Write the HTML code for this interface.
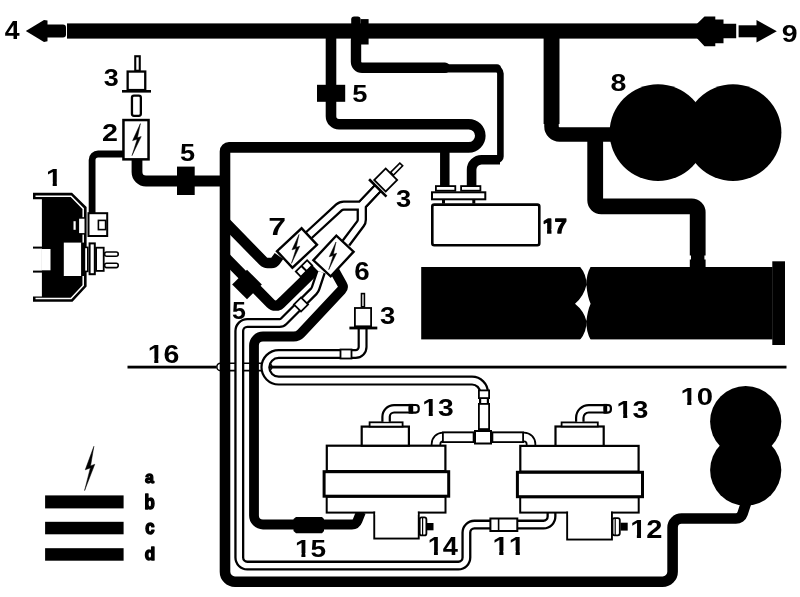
<!DOCTYPE html>
<html><head><meta charset="utf-8"><style>
html,body{margin:0;padding:0;background:#fff;}
svg{display:block;}
</style></head><body>
<svg width="800" height="597" viewBox="0 0 800 597">
<rect width="800" height="597" fill="#fff"/>
<g style="will-change:transform"><text transform="translate(4.75,39.25) scale(0.2670,0.2486)" font-family="Liberation Sans" font-weight="bold" font-size="100" style="font-kerning:none" fill="#000">4</text>

<text transform="translate(781.66,41.81) scale(0.2849,0.2429)" font-family="Liberation Sans" font-weight="bold" font-size="100" style="font-kerning:none" fill="#000">9</text>

<text transform="translate(103.83,86.48) scale(0.2696,0.2382)" font-family="Liberation Sans" font-weight="bold" font-size="100" style="font-kerning:none" fill="#000">3</text>

<text transform="translate(101.96,140.95) scale(0.2866,0.2449)" font-family="Liberation Sans" font-weight="bold" font-size="100" style="font-kerning:none" fill="#000">2</text>

<text transform="translate(45.96,186.35) scale(0.2912,0.2442)" font-family="Liberation Sans" font-weight="bold" font-size="100" style="font-kerning:none" fill="#000">1</text>
<rect x="46.81" y="182.53" width="5.86" height="4.89" fill="#fff"/><rect x="56.84" y="182.53" width="5.62" height="4.89" fill="#fff"/>
<text transform="translate(180.02,161.02) scale(0.2713,0.2379)" font-family="Liberation Sans" font-weight="bold" font-size="100" style="font-kerning:none" fill="#000">5</text>

<text transform="translate(352.31,102.01) scale(0.2733,0.2451)" font-family="Liberation Sans" font-weight="bold" font-size="100" style="font-kerning:none" fill="#000">5</text>

<text transform="translate(610.54,90.72) scale(0.2856,0.2387)" font-family="Liberation Sans" font-weight="bold" font-size="100" style="font-kerning:none" fill="#000">8</text>

<text transform="translate(268.18,234.75) scale(0.3197,0.2456)" font-family="Liberation Sans" font-weight="bold" font-size="100" style="font-kerning:none" fill="#000">7</text>

<text transform="translate(395.92,207.18) scale(0.2736,0.2410)" font-family="Liberation Sans" font-weight="bold" font-size="100" style="font-kerning:none" fill="#000">3</text>

<text transform="translate(542.72,232.82) scale(0.2170,0.2086)" font-family="Liberation Sans" font-weight="bold" font-size="100" style="font-kerning:none" fill="#000" stroke="#000" stroke-width="6" stroke-linejoin="round">17</text>
<rect x="542.70" y="228.94" width="4.37" height="5.43" fill="#fff"/><rect x="551.47" y="228.94" width="4.18" height="5.43" fill="#fff"/>
<text transform="translate(354.13,280.21) scale(0.2772,0.2500)" font-family="Liberation Sans" font-weight="bold" font-size="100" style="font-kerning:none" fill="#000">6</text>

<text transform="translate(231.88,318.72) scale(0.2492,0.2350)" font-family="Liberation Sans" font-weight="bold" font-size="100" style="font-kerning:none" fill="#000">5</text>

<text transform="translate(379.92,323.98) scale(0.2756,0.2438)" font-family="Liberation Sans" font-weight="bold" font-size="100" style="font-kerning:none" fill="#000">3</text>

<text transform="translate(147.70,362.51) scale(0.2848,0.2500)" font-family="Liberation Sans" font-weight="bold" font-size="100" style="font-kerning:none" fill="#000">16</text>
<rect x="148.54" y="358.60" width="5.73" height="5.00" fill="#fff"/><rect x="158.34" y="358.60" width="5.49" height="5.00" fill="#fff"/>
<text transform="translate(422.22,416.09) scale(0.2828,0.2312)" font-family="Liberation Sans" font-weight="bold" font-size="100" style="font-kerning:none" fill="#000">13</text>
<rect x="423.05" y="412.48" width="5.69" height="4.63" fill="#fff"/><rect x="432.78" y="412.48" width="5.45" height="4.63" fill="#fff"/>
<text transform="translate(616.60,417.68) scale(0.2858,0.2396)" font-family="Liberation Sans" font-weight="bold" font-size="100" style="font-kerning:none" fill="#000">13</text>
<rect x="617.43" y="413.94" width="5.75" height="4.80" fill="#fff"/><rect x="627.27" y="413.94" width="5.51" height="4.80" fill="#fff"/>
<text transform="translate(680.45,404.61) scale(0.2931,0.2472)" font-family="Liberation Sans" font-weight="bold" font-size="100" style="font-kerning:none" fill="#000">10</text>
<rect x="681.30" y="400.75" width="5.90" height="4.95" fill="#fff"/><rect x="691.40" y="400.75" width="5.65" height="4.95" fill="#fff"/>
<text transform="translate(630.16,538.25) scale(0.2909,0.2621)" font-family="Liberation Sans" font-weight="bold" font-size="100" style="font-kerning:none" fill="#000">12</text>
<rect x="631.01" y="534.15" width="5.85" height="5.25" fill="#fff"/><rect x="641.03" y="534.15" width="5.61" height="5.25" fill="#fff"/>
<text transform="translate(427.69,555.05) scale(0.2725,0.2573)" font-family="Liberation Sans" font-weight="bold" font-size="100" style="font-kerning:none" fill="#000">14</text>
<rect x="428.49" y="551.03" width="5.48" height="5.15" fill="#fff"/><rect x="437.87" y="551.03" width="5.26" height="5.15" fill="#fff"/>
<text transform="translate(492.44,554.75) scale(0.2947,0.2573)" font-family="Liberation Sans" font-weight="bold" font-size="100" style="font-kerning:none" fill="#000">11</text>
<rect x="493.30" y="550.73" width="5.93" height="5.15" fill="#fff"/><rect x="503.44" y="550.73" width="5.68" height="5.15" fill="#fff"/><rect x="509.69" y="550.73" width="5.93" height="5.15" fill="#fff"/><rect x="519.84" y="550.73" width="5.68" height="5.15" fill="#fff"/>
<text transform="translate(294.93,556.62) scale(0.2805,0.2322)" font-family="Liberation Sans" font-weight="bold" font-size="100" style="font-kerning:none" fill="#000">15</text>
<rect x="295.75" y="553.00" width="5.64" height="4.65" fill="#fff"/><rect x="305.41" y="553.00" width="5.41" height="4.65" fill="#fff"/>
<text transform="translate(145.02,482.61) scale(0.1598,0.1688)" font-family="Liberation Sans" font-weight="bold" font-size="100" style="font-kerning:none" fill="#000" stroke="#000" stroke-width="8" stroke-linejoin="round">a</text>

<text transform="translate(144.42,509.24) scale(0.1678,0.2026)" font-family="Liberation Sans" font-weight="bold" font-size="100" style="font-kerning:none" fill="#000" stroke="#000" stroke-width="8" stroke-linejoin="round">b</text>

<text transform="translate(145.17,534.38) scale(0.1673,0.1943)" font-family="Liberation Sans" font-weight="bold" font-size="100" style="font-kerning:none" fill="#000" stroke="#000" stroke-width="8" stroke-linejoin="round">c</text>

<text transform="translate(144.83,560.45) scale(0.1713,0.1817)" font-family="Liberation Sans" font-weight="bold" font-size="100" style="font-kerning:none" fill="#000" stroke="#000" stroke-width="8" stroke-linejoin="round">d</text>
</g>
<rect x="67.00" y="23.40" width="632.00" height="15.20" rx="0" fill="#000" />
<rect x="44.00" y="24.60" width="22.00" height="13.00" rx="3" fill="#000" />
<polygon points="25.80,30.90 44.00,19.90 47.50,20.50 47.50,41.30 44.00,41.90" fill="#000" />
<polygon points="697.00,23.80 704.50,16.50 715.30,16.50 715.30,19.40 723.50,19.40 723.50,23.80 736.20,23.80 736.20,38.20 723.50,38.20 723.50,43.20 715.30,43.20 715.30,46.20 704.50,46.20 697.00,38.20" fill="#000" />
<rect x="738.60" y="25.30" width="18.40" height="12.00" rx="0" fill="#000" />
<polygon points="756.50,20.00 776.80,31.30 756.50,42.60" fill="#000" />
<rect x="351.20" y="16.40" width="9.40" height="33.60" rx="3" fill="#000" />
<rect x="360.60" y="19.10" width="8.00" height="25.40" rx="0" fill="#000" />
<path d="M331.00,30.00 L331.00,116.20 A8.00,8.00 0 0 0 339.00,124.20 L468.70,124.20 A11.60,11.60 0 0 1 480.30,135.80 L480.30,135.80 A11.60,11.60 0 0 1 468.70,147.40 L229.00,147.40 A4.00,4.00 0 0 0 225.00,151.40 L225.00,571.70 A10.00,10.00 0 0 0 235.00,581.70 L662.60,581.70 A10.00,10.00 0 0 0 672.60,571.70 L672.60,527.50 A9.00,9.00 0 0 1 681.60,518.50 L735.91,518.50 A7.00,7.00 0 0 0 742.57,513.66 L747.00,500.00" fill="none" stroke="#000" stroke-width="10.6" stroke-linecap="butt"/>
<rect x="317.00" y="84.80" width="28.20" height="17.00" rx="0" fill="#000" />
<path d="M444.80,147.00 L444.80,187.00" fill="none" stroke="#000" stroke-width="9.5" stroke-linecap="butt"/>
<path d="M440.00,68.50 L495.40,68.50 A5.00,5.00 0 0 1 500.40,73.50 L500.40,156.60 A3.00,3.00 0 0 1 497.40,159.60 L490.00,159.60" fill="none" stroke="#000" stroke-width="6.6" stroke-linecap="butt"/>
<path d="M440.00,68.40 L497.00,68.40" fill="none" stroke="#000" stroke-width="8.4" stroke-linecap="round"/>
<path d="M356.00,40.00 L356.00,61.80 A6.00,6.00 0 0 0 362.00,67.80 L445.00,67.80" fill="none" stroke="#000" stroke-width="10.4" stroke-linecap="round"/>
<path d="M500.00,159.70 L481.60,159.70 A10.00,10.00 0 0 0 471.60,169.70 L471.60,187.00" fill="none" stroke="#000" stroke-width="9.6" stroke-linecap="butt"/>
<path d="M551.50,30.00 L551.50,126.50 A8.00,8.00 0 0 0 559.50,134.50 L612.00,134.50" fill="none" stroke="#000" stroke-width="14.5" stroke-linecap="butt"/>
<rect x="543.60" y="36.00" width="15.90" height="88.00" rx="0" fill="#000" />
<path d="M595.20,136.00 L595.20,200.30 A6.00,6.00 0 0 0 601.20,206.30 L691.70,206.30 A6.00,6.00 0 0 1 697.70,212.30 L697.70,268.00" fill="none" stroke="#000" stroke-width="15.8" stroke-linecap="butt"/>
<rect x="689.00" y="255.50" width="2.00" height="4.00" rx="0" fill="#fff" />
<rect x="704.40" y="255.50" width="2.00" height="4.00" rx="0" fill="#fff" />
<circle cx="658" cy="132.6" r="48.4" fill="#000"/>
<circle cx="733" cy="132.6" r="48.4" fill="#000"/>
<rect x="421.20" y="267.00" width="351.40" height="72.40" rx="0" fill="#000" />
<path d="M579.5,266 L591,266 Q586,275 586.4,285 Q587.5,297 590.6,303.75 Q587.5,311 586.4,321 Q586,332 591,340.5 L579.5,340.5 Q587,332 586.4,321 Q584,311 575,303.75 Q584,296 586.4,285 Q587,275 579.5,266 Z" fill="#fff"/>
<rect x="772.30" y="261.30" width="12.70" height="83.70" rx="0" fill="#000" />
<rect x="432.30" y="204.60" width="107.00" height="40.60" rx="2" fill="#fff" stroke="#000" stroke-width="2.6"/>
<rect x="432.00" y="192.30" width="53.30" height="7.00" rx="0" fill="#fff" stroke="#000" stroke-width="2"/>
<rect x="435.90" y="186.10" width="19.40" height="4.60" rx="0" fill="#fff" stroke="#000" stroke-width="1.8"/>
<rect x="461.10" y="186.10" width="19.30" height="4.60" rx="0" fill="#fff" stroke="#000" stroke-width="1.8"/>
<rect x="442.00" y="200.00" width="3.00" height="3.60" rx="0" fill="#000" />
<rect x="472.30" y="200.00" width="3.00" height="3.60" rx="0" fill="#000" />
<circle cx="745.7" cy="421.6" r="35.6" fill="#000"/>
<circle cx="745.7" cy="470" r="35.6" fill="#000"/>
<rect x="127.50" y="365.70" width="88.50" height="2.80" rx="0" fill="#000" />
<rect x="268.00" y="365.70" width="518.50" height="2.80" rx="0" fill="#000" />
<rect x="216.8" y="363.2" width="55" height="7.4" rx="3.7" fill="none" stroke="#000" stroke-width="1.6"/>
<rect x="135.25" y="56.25" width="4.50" height="14.50" rx="0" fill="#fff" stroke="#000" stroke-width="2.1"/>
<rect x="127.65" y="71.55" width="17.60" height="18.50" rx="0" fill="#fff" stroke="#000" stroke-width="2.3"/>
<rect x="122.00" y="90.00" width="29.00" height="2.60" rx="0" fill="#000" />
<rect x="131.95" y="95.65" width="8.90" height="20.20" rx="2" fill="#fff" stroke="#000" stroke-width="2.3"/>
<path d="M124.00,154.00 L98.10,154.00 A6.00,6.00 0 0 0 92.10,160.00 L92.10,213.00" fill="none" stroke="#000" stroke-width="6.8" stroke-linecap="butt"/>
<path d="M137.00,159.00 L137.00,172.00 A9.00,9.00 0 0 0 146.00,181.00 L226.00,181.00" fill="none" stroke="#000" stroke-width="10.8" stroke-linecap="butt"/>
<rect x="177.00" y="166.60" width="17.70" height="28.40" rx="0" fill="#000" />
<rect x="123.45" y="120.05" width="25.10" height="39.30" rx="0" fill="#fff" stroke="#000" stroke-width="2.5"/>
<polygon points="140.40,123.60 132.60,140.60 137.20,139.20 132.00,155.60 141.20,136.60 137.40,137.80" fill="#000" stroke="#000" stroke-width="0.5" stroke-linejoin="round"/>
<polygon points="33.00,192.80 72.00,192.80 86.60,207.00 86.60,286.50 72.50,301.80 33.00,301.80 33.00,296.50 41.90,296.50 41.90,199.30 33.00,199.30" fill="#000" />
<rect x="41.50" y="249.00" width="9.00" height="21.30" rx="0" fill="#fff" />
<rect x="33.00" y="246.60" width="9.00" height="2.00" rx="0" fill="#000" />
<rect x="33.00" y="270.60" width="9.00" height="2.00" rx="0" fill="#000" />
<polyline points="35.5,196.3 71,196.3 83.2,208.6 83.2,285.5 71,298.6 35.5,298.6" fill="none" stroke="#fff" stroke-width="1.5"/>
<rect x="73.50" y="221.20" width="2.20" height="8.60" rx="0" fill="#fff" />
<rect x="78.35" y="217.95" width="6.90" height="15.90" rx="0" fill="#fff" stroke="#000" stroke-width="1.5"/>
<rect x="88.50" y="213.20" width="18.70" height="22.80" rx="0" fill="#fff" stroke="#000" stroke-width="2"/>
<rect x="98.40" y="220.40" width="7.20" height="9.20" rx="0" fill="#fff" stroke="#000" stroke-width="1.6"/>
<rect x="63.80" y="242.60" width="17.60" height="33.40" rx="0" fill="#fff" />
<rect x="81.20" y="242.60" width="2.80" height="33.40" rx="0" fill="#000" />
<rect x="84.40" y="247.40" width="3.40" height="24.00" rx="0" fill="#fff" stroke="#000" stroke-width="1.6"/>
<rect x="89.60" y="243.40" width="5.20" height="30.80" rx="0" fill="#fff" stroke="#000" stroke-width="2"/>
<rect x="96.10" y="247.70" width="7.60" height="23.20" rx="0" fill="#fff" stroke="#000" stroke-width="1.8"/>
<rect x="104.60" y="252.00" width="13.60" height="4.20" rx="2" fill="#fff" stroke="#000" stroke-width="1.6"/>
<rect x="104.60" y="263.20" width="13.60" height="4.40" rx="2" fill="#fff" stroke="#000" stroke-width="1.6"/>
<path d="M224.00,221.00 L263.23,261.19 A6.00,6.00 0 0 0 267.53,263.00 L271.43,263.00 A5.00,5.00 0 0 0 275.50,260.91 L279.00,256.00" fill="none" stroke="#000" stroke-width="10.5" stroke-linecap="butt"/>
<path d="M225.00,257.00 L270.61,303.52 A7.00,7.00 0 0 0 280.50,303.63 L316.00,269.00" fill="none" stroke="#000" stroke-width="10.5" stroke-linecap="butt"/>
<g transform="translate(247,284.5) rotate(45)"><rect x="-10.5" y="-10.5" width="21" height="21" fill="#000"/></g>
<path d="M333.00,268.00 L342.19,284.30 A5.00,5.00 0 0 1 341.49,290.18 L300.96,333.34 A10.00,10.00 0 0 1 293.67,336.50 L263.00,336.50 A9.00,9.00 0 0 0 254.00,345.50 L254.00,515.50 A9.00,9.00 0 0 0 263.00,524.50 L351.94,524.50 A6.00,6.00 0 0 0 357.51,520.73 L361.00,512.00" fill="none" stroke="#000" stroke-width="9.8" stroke-linecap="butt"/>
<polygon points="293.50,519.00 296.00,517.00 322.00,517.00 324.00,519.00 324.00,531.00 322.00,533.20 296.00,533.20 293.50,531.00" fill="#000" />
<path d="M321.00,272.00 L315.60,288.21 A8.00,8.00 0 0 1 313.66,291.34 L300.00,305.00 L283.76,321.24 A6.00,6.00 0 0 1 279.51,323.00 L247.30,323.00 A8.00,8.00 0 0 0 239.30,331.00 L239.30,557.60 A8.00,8.00 0 0 0 247.30,565.60 L458.40,565.60 A8.00,8.00 0 0 0 466.40,557.60 L466.40,532.60 A8.00,8.00 0 0 1 474.40,524.60 L543.50,524.60 A8.00,8.00 0 0 0 551.50,516.60 L551.50,510.00" fill="none" stroke="#000" stroke-width="10.0"/><path d="M321.00,272.00 L315.60,288.21 A8.00,8.00 0 0 1 313.66,291.34 L300.00,305.00 L283.76,321.24 A6.00,6.00 0 0 1 279.51,323.00 L247.30,323.00 A8.00,8.00 0 0 0 239.30,331.00 L239.30,557.60 A8.00,8.00 0 0 0 247.30,565.60 L458.40,565.60 A8.00,8.00 0 0 0 466.40,557.60 L466.40,532.60 A8.00,8.00 0 0 1 474.40,524.60 L543.50,524.60 A8.00,8.00 0 0 0 551.50,516.60 L551.50,510.00" fill="none" stroke="#fff" stroke-width="5.4"/>
<g transform="translate(301,304.5) rotate(-45)"><rect x="-5" y="-5" width="10" height="10" fill="#fff" stroke="#000" stroke-width="1.8"/></g>
<path d="M362.60,328.00 L362.60,347.00 A7.00,7.00 0 0 1 355.60,354.00 L278.70,354.00 A13.30,13.30 0 0 0 265.40,367.30 L265.40,367.30 A13.30,13.30 0 0 0 278.70,380.60 L472.00,380.60 A12.00,12.00 0 0 1 484.00,392.60 L484.00,434.00" fill="none" stroke="#000" stroke-width="10.0"/><path d="M362.60,328.00 L362.60,347.00 A7.00,7.00 0 0 1 355.60,354.00 L278.70,354.00 A13.30,13.30 0 0 0 265.40,367.30 L265.40,367.30 A13.30,13.30 0 0 0 278.70,380.60 L472.00,380.60 A12.00,12.00 0 0 1 484.00,392.60 L484.00,434.00" fill="none" stroke="#fff" stroke-width="5.6"/>
<rect x="340.50" y="349.50" width="11.00" height="9.00" rx="0" fill="#fff" stroke="#000" stroke-width="1.8"/>
<path d="M436.00,447.00 L436.00,444.00 A7.00,7.00 0 0 1 443.00,437.00 L524.00,437.00 A7.00,7.00 0 0 1 531.00,444.00 L531.00,447.00" fill="none" stroke="#000" stroke-width="10.5"/><path d="M436.00,447.00 L436.00,444.00 A7.00,7.00 0 0 1 443.00,437.00 L524.00,437.00 A7.00,7.00 0 0 1 531.00,444.00 L531.00,447.00" fill="none" stroke="#fff" stroke-width="6.9"/>
<rect x="478.90" y="390.40" width="10.20" height="7.70" rx="0" fill="#fff" stroke="#000" stroke-width="1.8"/>
<rect x="478.90" y="403.90" width="10.20" height="25.20" rx="0" fill="#fff" stroke="#000" stroke-width="1.8"/>
<rect x="442.90" y="432.40" width="30.70" height="9.70" rx="0" fill="#fff" stroke="#000" stroke-width="1.8"/>
<rect x="492.40" y="432.40" width="30.70" height="9.70" rx="0" fill="#fff" stroke="#000" stroke-width="1.8"/>
<rect x="475.00" y="431.00" width="16.00" height="12.50" rx="0" fill="#fff" stroke="#000" stroke-width="2"/>
<path d="M378.00,188.00 L362.69,204.34 A4.00,4.00 0 0 1 359.77,205.60 L343.73,205.60 A7.00,7.00 0 0 0 338.99,207.45 L309.00,235.00" fill="none" stroke="#000" stroke-width="10.4"/><path d="M378.00,188.00 L362.90,203.84 A4.00,4.00 0 0 0 361.80,206.60 L361.80,219.66 A7.00,7.00 0 0 1 360.39,223.87 L346.00,243.00" fill="none" stroke="#000" stroke-width="10.4"/><path d="M378.00,188.00 L362.69,204.34 A4.00,4.00 0 0 1 359.77,205.60 L343.73,205.60 A7.00,7.00 0 0 0 338.99,207.45 L309.00,235.00" fill="none" stroke="#fff" stroke-width="5.800000000000001"/><path d="M378.00,188.00 L362.90,203.84 A4.00,4.00 0 0 0 361.80,206.60 L361.80,219.66 A7.00,7.00 0 0 1 360.39,223.87 L346.00,243.00" fill="none" stroke="#fff" stroke-width="5.800000000000001"/>
<g transform="translate(304,268.5) rotate(-45)"><rect x="-8" y="-3.6" width="16" height="7.2" fill="#fff" stroke="#000" stroke-width="1.8"/><rect x="-1" y="-3.6" width="2" height="7.2" fill="#000"/></g>
<g transform="translate(297,248) rotate(-43)"><rect x="-16.8" y="-11.3" width="33.6" height="22.6" fill="#fff" stroke="#000" stroke-width="2.4"/></g>
<polygon points="299.02,234.50 291.98,249.84 296.13,248.58 291.44,263.38 299.74,246.23 296.31,247.32" fill="#000" stroke="#000" stroke-width="0.5" stroke-linejoin="round"/>
<g transform="translate(333.5,256) rotate(-47)"><rect x="-16.8" y="-11.8" width="33.6" height="23.6" fill="#fff" stroke="#000" stroke-width="2.4"/></g>
<polygon points="335.99,242.00 329.25,256.70 333.22,255.49 328.73,269.67 336.68,253.24 333.40,254.28" fill="#000" stroke="#000" stroke-width="0.5" stroke-linejoin="round"/>
<g transform="translate(385.7,180) rotate(-45)"><rect x="-8.1" y="-8.1" width="16.2" height="16.2" fill="#fff" stroke="#000" stroke-width="1.8"/><rect x="9" y="-2" width="13" height="4" fill="#fff" stroke="#000" stroke-width="1.6"/><rect x="-12.5" y="-12.3" width="2.6" height="24.6" fill="#000"/></g>
<rect x="361.50" y="293.60" width="2.90" height="13.20" rx="0" fill="#fff" stroke="#000" stroke-width="1.6"/>
<rect x="354.90" y="308.00" width="16.20" height="18.30" rx="0" fill="#fff" stroke="#000" stroke-width="1.8"/>
<rect x="349.40" y="326.60" width="27.90" height="2.80" rx="0" fill="#000" />
<rect x="326.80" y="445.70" width="118.60" height="25.40" rx="0" fill="#fff" stroke="#000" stroke-width="2.2"/><rect x="326.70" y="496.70" width="118.80" height="15.90" rx="0" fill="#fff" stroke="#000" stroke-width="2"/><rect x="374.25" y="512.55" width="44.50" height="26.00" rx="0" fill="#fff" stroke="#000" stroke-width="1.9"/><rect x="375.20" y="510.60" width="42.60" height="4.00" rx="0" fill="#fff" /><rect x="324.10" y="471.70" width="124.60" height="24.50" rx="0" fill="#fff" stroke="#000" stroke-width="3"/><rect x="361.70" y="426.60" width="47.20" height="19.10" rx="0" fill="#fff" stroke="#000" stroke-width="2.2"/><rect x="369.60" y="422.30" width="33.00" height="4.30" rx="0" fill="#fff" stroke="#000" stroke-width="1.8"/>
<rect x="520.30" y="445.90" width="118.30" height="25.80" rx="0" fill="#fff" stroke="#000" stroke-width="2.2"/><rect x="520.20" y="497.20" width="118.50" height="15.40" rx="0" fill="#fff" stroke="#000" stroke-width="2"/><rect x="567.15" y="512.55" width="44.80" height="27.00" rx="0" fill="#fff" stroke="#000" stroke-width="1.9"/><rect x="568.10" y="510.60" width="42.90" height="4.00" rx="0" fill="#fff" /><rect x="517.40" y="472.30" width="125.10" height="24.40" rx="0" fill="#fff" stroke="#000" stroke-width="3"/><rect x="555.50" y="426.50" width="48.20" height="19.40" rx="0" fill="#fff" stroke="#000" stroke-width="2.2"/><rect x="561.60" y="422.40" width="36.20" height="4.10" rx="0" fill="#fff" stroke="#000" stroke-width="1.8"/>
<path d="M386.10,421.80 L386.10,416.80 A8.00,8.00 0 0 1 394.10,408.80 L412.00,408.80" fill="none" stroke="#000" stroke-width="9.6"/><path d="M386.10,421.80 L386.10,416.80 A8.00,8.00 0 0 1 394.10,408.80 L412.00,408.80" fill="none" stroke="#fff" stroke-width="5.199999999999999"/>
<rect x="409.70" y="405.00" width="9.00" height="7.60" rx="3" fill="#fff" stroke="#000" stroke-width="2.2"/>
<rect x="408.60" y="403.90" width="4.60" height="9.80" rx="0" fill="#000" />
<path d="M579.80,421.80 L579.80,417.80 A9.00,9.00 0 0 1 588.80,408.80 L606.00,408.80" fill="none" stroke="#000" stroke-width="9.6"/><path d="M579.80,421.80 L579.80,417.80 A9.00,9.00 0 0 1 588.80,408.80 L606.00,408.80" fill="none" stroke="#fff" stroke-width="5.199999999999999"/>
<rect x="604.60" y="405.00" width="6.30" height="7.60" rx="3" fill="#fff" stroke="#000" stroke-width="2.2"/>
<rect x="603.50" y="403.90" width="3.70" height="9.80" rx="0" fill="#000" />
<rect x="419.70" y="517.40" width="6.70" height="18.00" rx="2" fill="#fff" stroke="#000" stroke-width="1.8"/>
<rect x="422.00" y="517.50" width="1.20" height="17.80" rx="0" fill="#000" />
<rect x="427.00" y="523.00" width="6.50" height="7.30" rx="0" fill="#000" />
<rect x="612.50" y="518.10" width="7.30" height="17.20" rx="2" fill="#fff" stroke="#000" stroke-width="1.8"/>
<rect x="614.60" y="518.00" width="1.20" height="17.40" rx="0" fill="#000" />
<rect x="620.50" y="522.70" width="7.20" height="7.90" rx="0" fill="#000" />
<rect x="490.40" y="518.50" width="26.90" height="12.50" rx="0" fill="#fff" stroke="#000" stroke-width="2"/>
<rect x="497.80" y="518.00" width="1.60" height="13.50" rx="0" fill="#000" />
<rect x="45.10" y="495.40" width="78.50" height="13.00" rx="0" fill="#000" />
<rect x="45.10" y="521.80" width="78.50" height="12.50" rx="0" fill="#000" />
<rect x="45.10" y="548.20" width="78.50" height="12.50" rx="0" fill="#000" />
<polygon points="93.89,446.30 85.25,469.82 90.34,467.88 84.59,490.58 94.77,464.29 90.56,465.95" fill="#000" stroke="#000" stroke-width="0.5" stroke-linejoin="round"/>
</svg>
</body></html>
